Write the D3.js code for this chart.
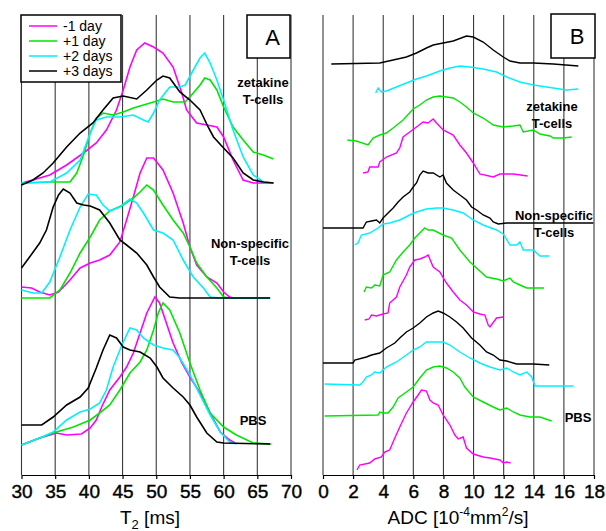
<!DOCTYPE html>
<html>
<head>
<meta charset="utf-8">
<script src="https://cdn.jsdelivr.net/npm/d3@7"></script>
<style>
body { margin: 0; background: #fff; }
text { font-family: "Liberation Sans", Arial, sans-serif; }
</style>
</head>
<body>
<div id="chart"></div>
<script>
// legend / series names
var days = ["-1 day", "+1 day", "+2 days", "+3 days"];
var dayColors = ["#ff00ff", "#00e600", "#00f0ff", "#000000"];

var t2Ticks = [30, 35, 40, 45, 50, 55, 60, 65, 70];
var adcTicks = [0, 2, 4, 6, 8, 10, 12, 14, 16, 18];

// Panel A: T2 histograms [ms, counts above group baseline]
var t2_zeta_m1 = [[30,0],[31.7,3],[34.2,8],[36.7,18],[39.2,30],[41.1,40],[42.6,53],[44.1,73],[45.1,93],[46.1,116],[47.1,133],[48.3,140],[49.6,136],[51.0,130],[52.5,116],[53.8,90],[54.5,73],[56.0,60],[57.5,58],[59.0,56],[60.0,46],[61.4,23],[62.9,3],[64.4,0],[67.4,0]];
var t2_zeta_p1 = [[30,0],[34.2,1],[37.2,1],[38.2,10],[39.2,28],[40.2,50],[41.1,65],[42.1,70],[43.6,68],[45.1,71],[46.6,75],[48.1,78],[49.6,81],[51.0,84],[52.5,81],[54.3,81],[55.5,90],[56.5,98],[57.2,105],[58.0,103],[59.0,93],[60.0,76],[61.4,56],[62.9,43],[64.4,31],[65.9,28],[67.4,24]];
var t2_zeta_p2 = [[30,0],[34.2,1],[36.7,10],[38.7,23],[40.2,50],[41.1,63],[42.6,66],[44.6,66],[46.6,68],[48.1,63],[48.8,61],[49.6,70],[50.5,83],[52.0,96],[53.5,96],[54.3,98],[55.5,113],[56.5,125],[57.2,130],[58.0,120],[59.0,103],[60.0,83],[61.4,53],[62.9,26],[64.4,8],[65.9,1],[67.4,0]];
var t2_zeta_p3 = [[30,-2],[31.7,3],[33.2,10],[34.7,20],[36.7,36],[38.7,50],[40.6,60],[42.1,73],[43.6,85],[45.1,87],[47.1,84],[48.6,93],[50.1,103],[51.0,107],[52.0,105],[53.5,91],[55.0,83],[56.5,73],[57.7,56],[58.5,46],[60.0,35],[61.4,25],[62.9,10],[64.4,3],[65.9,1],[67.4,0]];

var t2_non_m1 = [[30,11],[31.5,10],[32.7,6],[34.2,3],[35.5,6],[37.2,18],[38.7,30],[40.2,35],[41.6,38],[43.1,43],[44.6,56],[45.6,78],[46.6,101],[47.6,125],[48.6,140],[49.6,140],[51.0,128],[52.5,105],[54.0,75],[55.0,51],[56.0,33],[57.5,21],[59.0,15],[60.0,6],[60.9,1],[61.4,0],[66.9,0]];
var t2_non_p1 = [[30,0],[34.2,0],[35.7,8],[37.2,25],[38.7,45],[40.2,61],[41.6,78],[43.1,87],[45.1,93],[46.6,100],[47.6,106],[48.6,113],[49.6,108],[51.0,93],[52.5,78],[54.0,65],[55.0,51],[56.0,35],[57.5,21],[59.0,10],[60.0,1],[60.9,0],[66.9,0]];
var t2_non_p2 = [[30,8],[31.7,5],[33.0,5],[34.2,16],[35.7,41],[37.2,68],[38.7,91],[39.9,104],[41.1,103],[42.1,93],[43.1,87],[44.6,91],[46.1,99],[47.1,95],[48.1,85],[49.6,68],[51.0,65],[52.5,58],[54.0,38],[55.5,21],[57.0,10],[58.0,1],[59.5,0],[66.9,0]];
var t2_non_p3 = [[30,30],[31.2,41],[32.7,55],[33.7,68],[34.7,91],[35.5,103],[36.2,109],[37.2,105],[38.2,95],[39.2,93],[40.2,92],[41.6,88],[43.1,75],[44.6,58],[45.6,53],[47.1,45],[48.6,33],[49.6,21],[50.5,11],[52.0,1],[53.5,0],[66.9,0]];

var t2_pbs_m1 = [[30,-1],[32.7,6],[35.2,11],[36.7,9],[38.9,10],[40.2,16],[41.1,24],[41.9,37],[43.1,54],[44.6,67],[45.6,77],[46.6,91],[47.6,111],[48.6,131],[49.8,147],[50.5,141],[51.5,121],[52.5,101],[53.8,81],[55.0,67],[56.5,51],[58.0,31],[59.5,12],[60.9,4],[61.7,1]];
var t2_pbs_p1 = [[30,-1],[32.7,6],[34.7,11],[37.7,17],[40.2,24],[41.6,31],[43.1,39],[44.6,54],[46.1,71],[47.6,82],[48.6,94],[49.6,114],[50.3,131],[51.0,141],[52.0,134],[53.5,111],[55.0,81],[56.5,54],[58.0,31],[60.0,17],[61.9,9],[64.4,1],[67.1,0]];
var t2_pbs_p2 = [[30,-1],[32.7,6],[34.7,12],[36.7,24],[38.7,32],[40.2,35],[41.6,41],[42.6,54],[43.6,77],[44.9,99],[46.1,116],[47.1,114],[48.1,106],[49.6,99],[51.0,96],[52.5,94],[53.5,86],[55.0,69],[56.5,49],[58.0,29],[59.5,12],[60.9,2],[61.9,0]];
var t2_pbs_p3 = [[30,19],[33.0,19],[34.7,27],[36.7,39],[38.7,47],[39.9,56],[41.1,76],[42.1,94],[43.1,109],[44.1,106],[45.1,97],[46.1,94],[47.6,92],[49.1,86],[50.1,77],[51.0,66],[52.5,56],[54.0,47],[55.0,39],[56.0,27],[57.5,11],[59.0,2],[60.0,1],[66.9,0]];

// group baselines (counts) for the stacked T2 histograms
var t2Offsets = [292, 177, 31];
var t2Series = [
  [t2_zeta_m1, t2_zeta_p1, t2_zeta_p2, t2_zeta_p3],
  [t2_non_m1, t2_non_p1, t2_non_p2, t2_non_p3],
  [t2_pbs_m1, t2_pbs_p1, t2_pbs_p2, t2_pbs_p3]
];

// Panel B: ADC histograms, stacked [ADC, offset counts]
var adc_zeta_p3 = [[0.55,411],[3.77,412],[4.66,415],[5.54,418],[6.21,422],[6.87,427],[7.32,430],[7.98,432],[8.65,434],[9.53,439],[9.98,438],[10.64,433],[11.31,425],[11.97,418],[12.42,414],[13.08,412],[13.97,412],[15.3,411],[16.96,409]];
var adc_zeta_p2 = [[3.5,382],[3.66,387],[3.88,383],[4.21,384],[4.88,388],[5.54,392],[6.21,396],[6.87,399],[7.76,404],[8.43,407],[9.09,409],[9.76,408],[10.64,406],[11.53,403],[12.2,398],[13.08,393],[13.97,390],[15.3,387],[16.19,385],[16.96,386]];
var adc_zeta_p1 = [[1.62,335],[2.22,334],[2.99,330],[3.33,337],[3.77,340],[4.21,342],[4.66,347],[5.32,355],[5.99,366],[6.43,370],[6.87,375],[7.32,378],[7.76,379],[8.2,378],[8.65,377],[9.09,373],[9.53,368],[9.98,362],[10.64,357],[11.31,350],[11.97,348],[12.64,349],[13.08,350],[13.3,343],[13.97,345],[14.41,341],[15.08,339],[15.3,337],[15.96,337],[16.52,338]];
var adc_zeta_m1 = [[2.66,302],[2.99,303],[3.1,308],[3.66,308],[3.77,313],[4.21,318],[4.88,322],[5.1,327],[5.32,338],[5.76,343],[6.21,348],[6.65,353],[6.98,352],[7.32,356],[7.54,352],[7.98,345],[8.65,340],[9.09,330],[9.53,322],[9.98,312],[10.42,301],[11.31,298],[11.75,301],[12.64,301],[13.59,299]];

var adc_non_p3 = [[0,247],[2.66,247],[2.88,253],[3.22,254],[3.55,255],[3.77,252],[3.99,257],[4.32,262],[4.66,267],[4.99,273],[5.32,278],[5.76,283],[5.99,288],[6.21,292],[6.43,300],[6.65,304],[6.98,302],[7.32,302],[7.76,298],[7.98,300],[8.2,292],[8.65,285],[9.09,280],[9.53,275],[9.87,268],[10.2,265],[10.64,260],[11.09,257],[11.31,253],[11.64,251],[12.2,252],[17.96,252]];
var adc_non_p2 = [[2.11,230],[2.33,232],[2.55,240],[3.1,242],[3.66,247],[3.99,251],[4.43,252],[5.1,255],[5.76,260],[6.21,263],[6.87,266],[7.54,267],[7.98,267],[8.65,265],[9.31,262],[9.98,255],[10.64,250],[11.53,245],[11.97,241],[12.42,230],[12.86,230],[13.08,233],[13.3,225],[13.97,225],[14.41,219],[15.03,219]];
var adc_non_p1 = [[2.73,183],[2.88,188],[3.22,187],[3.44,190],[3.77,189],[3.99,200],[4.43,203],[4.88,215],[5.32,223],[5.76,230],[6.1,237],[6.43,242],[6.76,247],[6.98,245],[7.32,245],[7.98,240],[8.54,237],[9.09,225],[9.76,213],[10.2,207],[10.86,198],[11.53,196],[11.97,194],[12.42,197],[12.64,193],[13.08,190],[13.53,187],[14.68,187]];
var adc_non_m1 = [[2.77,155],[3.06,156],[3.22,160],[3.55,159],[3.99,161],[4.32,162],[4.43,172],[4.88,178],[5.1,188],[5.54,200],[5.76,208],[6.1,215],[6.43,216],[6.76,218],[6.98,220],[7.32,208],[7.76,203],[8.2,192],[8.65,183],[9.09,175],[9.53,170],[9.98,163],[10.42,161],[10.75,160],[10.97,150],[11.09,148],[11.53,157],[11.97,158]];

var adc_pbs_p3 = [[0,112],[2.0,112],[2.11,115],[2.88,118],[3.22,120],[3.77,122],[4.21,127],[4.77,132],[5.1,137],[5.54,143],[5.99,147],[6.43,152],[6.87,158],[7.32,162],[7.65,164],[7.98,162],[8.43,158],[8.87,153],[9.31,147],[9.87,137],[10.42,130],[10.86,123],[11.31,120],[11.75,115],[12.2,114],[12.86,111],[13.97,111],[15.03,110]];
var adc_pbs_p2 = [[0.11,91],[2.44,90],[2.66,93],[2.88,98],[3.22,100],[3.44,103],[3.77,102],[3.99,105],[4.21,108],[4.88,113],[5.54,120],[5.99,125],[6.43,128],[6.87,133],[7.32,133],[7.98,133],[8.43,130],[9.09,123],[9.76,117],[10.42,112],[11.09,108],[11.75,105],[12.2,107],[12.64,103],[13.08,100],[13.53,103],[13.86,98],[14.08,89],[16.63,89]];
var adc_pbs_p1 = [[0.11,59],[3.66,60],[3.77,63],[3.99,62],[4.32,62],[4.66,68],[4.99,77],[5.54,83],[5.99,88],[6.43,97],[6.87,105],[7.32,108],[7.76,109],[8.2,107],[8.65,103],[9.09,97],[9.42,88],[9.98,78],[10.64,73],[11.31,68],[11.75,65],[12.2,67],[12.64,63],[13.08,60],[13.75,58],[14.41,58],[15.19,54]];
var adc_pbs_m1 = [[2.26,5],[2.44,10],[3.1,12],[3.44,16],[3.88,18],[4.1,23],[4.43,25],[4.77,37],[5.1,48],[5.54,62],[5.99,73],[6.32,80],[6.54,85],[6.87,84],[7.1,75],[7.32,72],[7.65,70],[7.98,60],[8.43,50],[8.76,40],[8.98,36],[9.31,38],[9.53,27],[9.98,21],[10.64,18],[11.09,17],[11.75,15],[11.97,12],[12.2,13],[12.46,12]];

var adcSeries = [
  [adc_zeta_m1, adc_zeta_p1, adc_zeta_p2, adc_zeta_p3],
  [adc_non_m1, adc_non_p1, adc_non_p2, adc_non_p3],
  [adc_pbs_m1, adc_pbs_p1, adc_pbs_p2, adc_pbs_p3]
];

var width = 606, height = 531;

var svg = d3.select("#chart")
    .append("svg")
    .attr("width", width)
    .attr("height", height);

var xT2 = d3.scaleLinear().domain([30, 70]).range([21.5, 291]);
var xAdc = d3.scaleLinear().domain([0, 18]).range([323, 594]);
var y = d3.scaleLinear().domain([0, 460]).range([475, 15]);

// grid lines
function grid(scale, ticks) {
    svg.append("g")
        .selectAll("line")
        .data(ticks)
        .enter()
        .append("line")
        .attr("x1", d => scale(d))
        .attr("x2", d => scale(d))
        .attr("y1", y(0))
        .attr("y2", y(460))
        .style("stroke", "#3a3a3a")
        .style("stroke-width", 1.1);
}
grid(xT2, t2Ticks);
grid(xAdc, adcTicks);

// axes
function axis(scale, ticks) {
    var g = svg.append("g")
        .attr("transform", "translate(0," + y(0) + ")")
        .call(d3.axisBottom(scale).tickValues(ticks).tickSize(4).tickSizeOuter(0).tickPadding(6));
    g.select(".domain").style("stroke", "#000").style("stroke-width", 1.2);
    g.selectAll(".tick line").style("stroke", "#000").style("stroke-width", 1.2);
    g.selectAll("text")
        .style("font-family", "Liberation Sans, Arial, sans-serif")
        .style("font-size", "19px")
        .style("fill", "#000")
        .style("stroke", "#000")
        .style("stroke-width", 0.4);
}
axis(xT2, t2Ticks);
axis(xAdc, adcTicks);

// curves
var lineT2 = d3.line().x(d => xT2(d[0])).y(d => y(d[1]));
var lineAdc = d3.line().x(d => xAdc(d[0])).y(d => y(d[1]));

t2Series.forEach(function(group, gi) {
    group.forEach(function(series, di) {
        var shifted = series.map(d => [d[0], d[1] + t2Offsets[gi]]);
        svg.append("path")
            .datum(shifted)
            .attr("d", lineT2)
            .style("fill", "none")
            .style("stroke", dayColors[di])
            .style("stroke-width", 1.6);
    });
});

adcSeries.forEach(function(group) {
    group.forEach(function(series, di) {
        svg.append("path")
            .datum(series)
            .attr("d", lineAdc)
            .style("fill", "none")
            .style("stroke", dayColors[di])
            .style("stroke-width", 1.4);
    });
});

// group labels
function label(x, yy, lines) {
    var t = svg.append("text")
        .attr("x", x)
        .attr("y", yy)
        .attr("text-anchor", "middle")
        .style("font-size", "13px")
        .style("font-weight", "bold");
    lines.forEach(function(s, i) {
        t.append("tspan").attr("x", x).attr("dy", i == 0 ? 0 : 17).text(s);
    });
}
label(263, 87, ["zetakine", "T-cells"]);
label(250, 248, ["Non-specific", "T-cells"]);
label(253, 425, ["PBS"]);
label(552, 111, ["zetakine", "T-cells"]);
label(554, 220, ["Non-specific", "T-cells"]);
label(578, 422, ["PBS"]);

// legend
var legend = svg.append("g");
legend.append("rect")
    .attr("x", 21).attr("y", 15)
    .attr("width", 100).attr("height", 67)
    .style("fill", "#fff")
    .style("stroke", "#000")
    .style("stroke-width", 1.5);

var items = legend.selectAll(".item")
    .data(days)
    .enter()
    .append("g")
    .attr("transform", function(d, i) { return "translate(0," + (26 + i * 15) + ")"; });

items.append("line")
    .attr("x1", 29).attr("x2", 57)
    .style("stroke", (d, i) => dayColors[i])
    .style("stroke-width", 1.5);

items.append("text")
    .attr("x", 63)
    .attr("y", 5)
    .style("font-size", "14px")
    .text(d => d);

// panel letters
function letterBox(x0, y0, w, h, s) {
    svg.append("rect")
        .attr("x", x0).attr("y", y0)
        .attr("width", w).attr("height", h)
        .style("fill", "#fff")
        .style("stroke", "#000")
        .style("stroke-width", 1.5);
    svg.append("text")
        .attr("x", x0 + w / 2 + 4)
        .attr("y", y0 + h / 2 + 8)
        .attr("text-anchor", "middle")
        .style("font-size", "22px")
        .text(s);
}
letterBox(247, 15, 43, 43, "A");
letterBox(551, 14, 44, 44, "B");

// axis titles
var t2Title = svg.append("text")
    .attr("x", 150).attr("y", 524)
    .attr("text-anchor", "middle")
    .style("font-size", "19px");
t2Title.append("tspan").text("T");
t2Title.append("tspan").attr("dy", 5).style("font-size", "13px").text("2");
t2Title.append("tspan").attr("dy", -5).text(" [ms]");

var adcTitle = svg.append("text")
    .attr("x", 458).attr("y", 524)
    .attr("text-anchor", "middle")
    .style("font-size", "19px");
adcTitle.append("tspan").text("ADC [10");
adcTitle.append("tspan").attr("dy", -8).style("font-size", "12px").text("-4");
adcTitle.append("tspan").attr("dy", 8).text("mm");
adcTitle.append("tspan").attr("dy", -8).style("font-size", "12px").text("2");
adcTitle.append("tspan").attr("dy", 8).text("/s]");
</script>
</body>
</html>
